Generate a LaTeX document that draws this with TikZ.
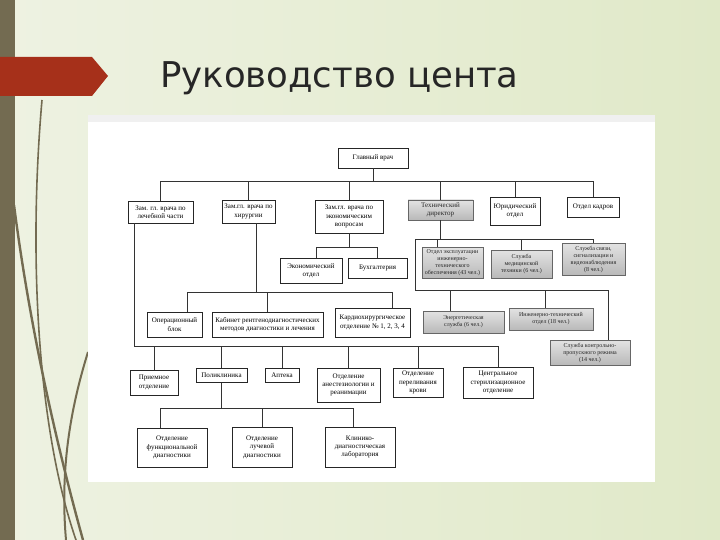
\documentclass[tikz,border=0pt]{standalone}
\usepackage{fontspec}
\setmainfont{Liberation Serif}
\newfontfamily\titlefont{DejaVu Sans}
\definecolor{olive}{RGB}{115,107,81}
\definecolor{redarrow}{RGB}{166,48,26}
\definecolor{bgL}{RGB}{238,242,226}
\definecolor{bgR}{RGB}{224,233,200}
\tikzset{
  box/.style={draw=black!85, fill=white, line width=0.6pt, align=center, inner sep=1pt,
     font=\fontsize{7}{8.4}\selectfont},
  gbox/.style={draw=black!60, top color=gray!22, bottom color=gray!55, line width=0.6pt,
     align=center, inner sep=1pt, text=black!85, font=\fontsize{6}{7}\selectfont},
  sz/.style 2 args={minimum width=#1pt, minimum height=#2pt},
  link/.style={draw=black!80, line width=0.7pt},
  deco/.style={draw=olive, line width=2.4pt}
}
\begin{document}
\begin{tikzpicture}[x=1pt,y=-1pt]
\useasboundingbox (0,0) rectangle (720,540);
% background
\shade[left color=bgL, right color=bgR] (0,0) rectangle (720,540);
\fill[olive] (0,0) rectangle (15,540);
% decorative curves
\draw[deco] (14,205) .. controls (30,330) and (58,450) .. (83,540);
\draw[deco, line width=1.6pt] (42,100) .. controls (28,260) and (38,430) .. (76,540);
\draw[deco, line width=2pt] (88,352) .. controls (70,410) and (60,470) .. (66,540);
% red arrow
\fill[redarrow] (0,57) -- (92,57) -- (108,76) -- (92,96) -- (0,96) -- cycle;
% title
\node[anchor=base west, inner sep=0pt, font=\titlefont\fontsize{35.5}{35.5}\selectfont, text=black!85] (title) at (160,88) {Руководство цента};
% white frame
\fill[white] (88,115) rectangle (655,482);
\fill[gray!12] (88,115) rectangle (655,122);

% ---- nodes
\node[box, sz={70}{20}] (gv) at (373,158) {Главный врач};
\node[box, sz={65}{22}] (z1) at (160.5,212) {Зам. гл. врача по\\лечебной части};
\node[box, sz={53}{23}] (z2) at (248.5,211.5) {Зам.гл. врача по\\хирургии};
\node[box, sz={68}{33}] (z3) at (349,216.5) {Зам.гл. врача по\\экономическим\\вопросам};
\node[gbox, sz={65}{20}, font=\fontsize{7}{8}\selectfont] (td) at (440.5,210) {Технический\\директор};
\node[box, sz={50}{28}] (ju) at (515,211) {Юридический\\отдел};
\node[box, sz={52}{20}] (ok) at (593,207) {Отдел кадров};

\node[gbox, sz={61}{31}] (s1) at (452.5,262.5) {Отдел эксплуатации\\инженерно-\\технического\\обеспечения (43 чел.)};
\node[gbox, sz={61}{28}] (s2) at (521.5,264) {Служба\\медицинской\\техники (6 чел.)};
\node[gbox, sz={63}{32}] (s3) at (593.5,259) {Служба связи,\\сигнализации и\\видеонаблюдения\\(8 чел.)};

\node[gbox, sz={81}{22}] (en) at (463.5,322) {Энергетическая\\служба (6 чел.)};
\node[gbox, sz={84}{22}] (it) at (551,319) {Инженерно-технический\\отдел (18 чел.)};
\node[gbox, sz={80}{25}] (kp) at (590,352.5) {Служба контрольно-\\пропускного режима\\(14 чел.)};

\node[box, sz={62}{25}] (ec) at (311,270.5) {Экономический\\отдел};
\node[box, sz={59}{20}] (bu) at (377.5,268) {Бухгалтерия};

\node[box, sz={55}{25}] (ob) at (174.5,324.5) {Операционный\\блок};
\node[box, sz={111}{25}] (kr) at (267.5,324.5) {Кабинет рентгенодиагностических\\методов диагностики и лечения};
\node[box, sz={75}{29}] (kh) at (372.5,322.5) {Кардиохирургическое\\отделение № 1, 2, 3, 4};

\node[box, sz={48}{25}] (pr) at (154,382.5) {Приемное\\отделение};
\node[box, sz={51}{14}] (po) at (221.5,375.5) {Поликлиника};
\node[box, sz={34}{14}] (ap) at (282,375.5) {Аптека};
\node[box, sz={63}{34}] (an) at (348.5,385) {Отделение\\анестезиологии и\\реанимации};
\node[box, sz={50}{29}] (pk) at (418,382.5) {Отделение\\переливания\\крови};
\node[box, sz={70}{31}] (cs) at (498,382.5) {Центральное\\стерилизационное\\отделение};

\node[box, sz={70}{39}] (fd) at (172,447.5) {Отделение\\функциональной\\диагностики};
\node[box, sz={60}{40}] (ld) at (262,447) {Отделение\\лучевой\\диагностики};
\node[box, sz={70}{40}] (kl) at (360,447) {Клинико-\\диагностическая\\лаборатория};

% ---- bus coordinates
\coordinate (busTop) at (0,181);
\coordinate (busTech) at (0,239);
\coordinate (busTech2) at (0,290);
\coordinate (busEco) at (0,247);
\coordinate (busSur) at (0,292);
\coordinate (busMed) at (0,346);
\coordinate (busPol) at (0,408);
\coordinate (techL) at (415,239);
\coordinate (techL2) at (415,290);
\coordinate (medL) at ([xshift=7pt]z1.south west);

% ---- connectors
% top level
\draw[link] (gv.south) -- (gv.south |- busTop);
\draw[link] (z1.north |- busTop) -- (ok.north |- busTop);
\foreach \n in {z1,z2,z3,td,ju,ok} \draw[link] (\n.north) -- (\n.north |- busTop);
% technical
\draw[link] (td.south) -- (td.south |- busTech);
\draw[link] (techL) -- (s3.north |- busTech);
\draw[link] ([xshift=-15pt]s1.north) -- ([xshift=-15pt]s1.north |- busTech);
\draw[link] (s2.north) -- (s2.north |- busTech);
\draw[link] (s3.north) -- (s3.north |- busTech);
\draw[link] (techL) -- (techL2) -- ([xshift=18pt]kp.north |- busTech2);
\draw[link] ([xshift=-13pt]en.north) -- ([xshift=-13pt]en.north |- busTech2);
\draw[link] ([xshift=-6pt]it.north) -- ([xshift=-6pt]it.north |- busTech2);
\draw[link] ([xshift=18pt]kp.north) -- ([xshift=18pt]kp.north |- busTech2);
% economics
\draw[link] (z3.south) -- (z3.south |- busEco);
\draw[link] ([xshift=5pt]ec.north |- busEco) -- (bu.north |- busEco);
\draw[link] ([xshift=5pt]ec.north) -- ([xshift=5pt]ec.north |- busEco);
\draw[link] (bu.north) -- (bu.north |- busEco);
% surgery
\draw[link] ([xshift=8pt]z2.south) -- ([xshift=8pt]z2.south |- busSur);
\draw[link] ([xshift=13pt]ob.north |- busSur) -- ([xshift=20pt]kh.north |- busSur);
\draw[link] ([xshift=13pt]ob.north) -- ([xshift=13pt]ob.north |- busSur);
\draw[link] (kr.north) -- (kr.north |- busSur);
\draw[link] ([xshift=20pt]kh.north) -- ([xshift=20pt]kh.north |- busSur);
% medical
\draw[link] (medL) -- (medL |- busMed) -- (cs.north |- busMed);
\foreach \n in {pr,po,ap,an,pk,cs} \draw[link] (\n.north) -- (\n.north |- busMed);
% polyclinic
\draw[link] (po.south) -- (po.south |- busPol);
\draw[link] ([xshift=-12pt]fd.north |- busPol) -- ([xshift=-7pt]kl.north |- busPol);
\draw[link] ([xshift=-12pt]fd.north) -- ([xshift=-12pt]fd.north |- busPol);
\draw[link] (ld.north) -- (ld.north |- busPol);
\draw[link] ([xshift=-7pt]kl.north) -- ([xshift=-7pt]kl.north |- busPol);
\end{tikzpicture}
\end{document}
